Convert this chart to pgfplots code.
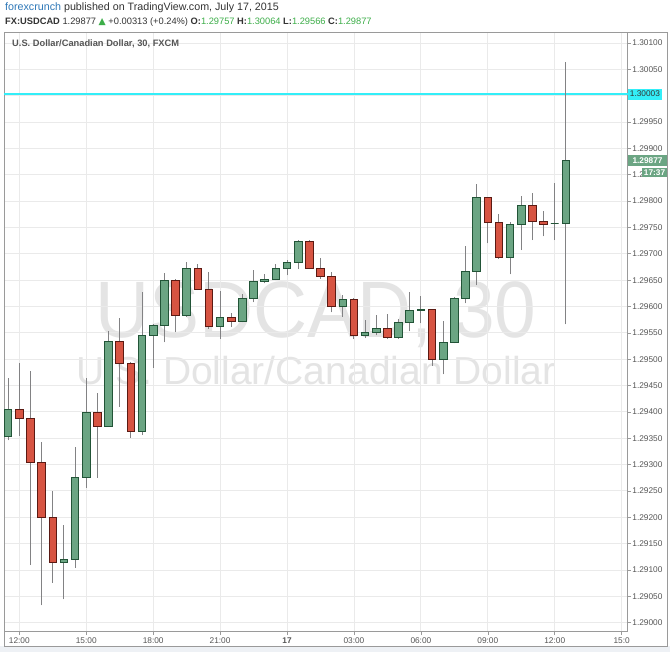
\documentclass[border=0pt]{standalone}
\usepackage{fontspec}
\setmainfont{Liberation Sans}
\newfontfamily\dejavu{DejaVu Sans}
\usepackage{pgfplots}
\usepackage{pgfplotstable}
\pgfplotsset{compat=1.18}

\definecolor{upfill}{HTML}{6BA583}
\definecolor{upline}{HTML}{225437}
\definecolor{dnfill}{HTML}{D75442}
\definecolor{dnline}{HTML}{5B1A13}
\definecolor{wick}{HTML}{828284}
\definecolor{gridc}{HTML}{EAEAEA}
\definecolor{framec}{HTML}{9A9A9A}
\definecolor{lbl}{HTML}{555555}
\definecolor{wm}{HTML}{E4E4E4}
\definecolor{cyanc}{HTML}{33EEF8}
\definecolor{fcblue}{HTML}{2E78B8}
\definecolor{tvgreen}{HTML}{3DAE49}
\definecolor{hdr}{HTML}{333333}
\definecolor{bgc}{HTML}{EEF1F5}

% 30 min candles, t = hours from 16 Jul 00:00
\pgfplotstableread{
t    o       h       l       c
11.5 1.29353 1.29464 1.29346 1.29405
12.0 1.29405 1.29492 1.29355 1.29388
12.5 1.29388 1.29477 1.29109 1.29304
13.0 1.29304 1.29342 1.29033 1.29199
13.5 1.29199 1.29249 1.29076 1.29114
14.0 1.29114 1.29186 1.29044 1.29120
14.5 1.29120 1.29334 1.29104 1.29275
15.0 1.29275 1.29464 1.29256 1.29399
15.5 1.29399 1.29435 1.29275 1.29372
16.0 1.29372 1.29553 1.29372 1.29534
16.5 1.29534 1.29578 1.29410 1.29492
17.0 1.29492 1.29495 1.29351 1.29363
17.5 1.29363 1.29627 1.29357 1.29545
18.0 1.29545 1.29566 1.29484 1.29564
18.5 1.29564 1.29663 1.29532 1.29650
19.0 1.29650 1.29652 1.29551 1.29583
19.5 1.29583 1.29684 1.29581 1.29673
20.0 1.29673 1.29680 1.29631 1.29633
20.5 1.29633 1.29665 1.29558 1.29562
21.0 1.29562 1.29629 1.29538 1.29579
21.5 1.29579 1.29587 1.29562 1.29572
22.0 1.29572 1.29623 1.29570 1.29616
22.5 1.29616 1.29669 1.29608 1.29648
23.0 1.29648 1.29661 1.29644 1.29652
23.5 1.29652 1.29680 1.29650 1.29673
24.0 1.29673 1.29688 1.29659 1.29684
24.5 1.29684 1.29726 1.29671 1.29724
25.0 1.29724 1.29726 1.29671 1.29673
25.5 1.29673 1.29692 1.29653 1.29657
26.0 1.29657 1.29665 1.29589 1.29600
26.5 1.29600 1.29621 1.29581 1.29614
27.0 1.29614 1.29616 1.29538 1.29545
27.5 1.29545 1.29574 1.29540 1.29551
28.0 1.29551 1.29583 1.29545 1.29559
28.5 1.29559 1.29585 1.29538 1.29541
29.0 1.29541 1.29576 1.29539 1.29570
29.5 1.29570 1.29627 1.29553 1.29593
30.0 1.29593 1.29619 1.29568 1.29595
30.5 1.29595 1.29596 1.29488 1.29500
31.0 1.29500 1.29572 1.29471 1.29532
31.5 1.29532 1.29618 1.29530 1.29616
32.0 1.29616 1.29714 1.29606 1.29667
32.5 1.29667 1.29832 1.29640 1.29806
33.0 1.29806 1.29808 1.29720 1.29760
33.5 1.29760 1.29775 1.29691 1.29693
34.0 1.29693 1.29760 1.29661 1.29756
34.5 1.29756 1.29809 1.29707 1.29792
35.0 1.29792 1.29815 1.29726 1.29762
35.5 1.29762 1.29781 1.29733 1.29756
36.0 1.29757 1.29834 1.29726 1.29757
36.5 1.29757 1.30064 1.29566 1.29877
}\ohlc

\pgfplotsset{
  wickst/.style={draw=wick, line width=1pt, mark=none},
  upbody/.style={draw=upline, fill=upfill, line width=0.9pt, mark=none},
  dnbody/.style={draw=dnline, fill=dnfill, line width=0.9pt, mark=none},
}

\begin{document}
\begin{tikzpicture}[x=1pt,y=1pt]
\useasboundingbox (0,0) rectangle (670,652);
\fill[white] (0,0) rectangle (670,652);
\fill[bgc] (0,0) rectangle (670,6);
\draw[framec, line width=0.8pt] (4,6) rectangle (667,620);

% watermark
\node[wm, anchor=base, inner sep=0, font=\fontsize{80}{80}\selectfont, xscale=0.935, transform shape] at (316,314) {USDCAD, 30};
\node[wm, anchor=base, inner sep=0, font=\fontsize{39}{39}\selectfont] at (316,267) {U.S. Dollar/Canadian Dollar};

\begin{axis}[
  at={(4pt,20.3pt)}, anchor=south west,
  scale only axis, width=623.7pt, height=599.7pt,
  xmin=11.314, xmax=39.27, ymin=1.289829, ymax=1.301209,
  clip=false,
  axis line style={draw=framec, line width=0.8pt},
  tick style={draw=framec, line width=0.6pt},
  tick align=outside, major tick length=3.5pt,
  xtick pos=bottom, ytick pos=right, yticklabel pos=right,
  grid=major, grid style={draw=gridc, line width=0.9pt},
  xtick={12,15,18,21,24,27,30,33,36,39},
  xticklabels={12:00,15:00,18:00,21:00,\textbf{17},03:00,06:00,09:00,12:00,15:0},
  ytick={1.29,1.2905,1.291,1.2915,1.292,1.2925,1.293,1.2935,1.294,1.2945,1.295,1.2955,1.296,1.2965,1.297,1.2975,1.298,1.2985,1.299,1.2995,1.3,1.3005,1.301},
  yticklabels={1.29000,1.29050,1.29100,1.29150,1.29200,1.29250,1.29300,1.29350,1.29400,1.29450,1.29500,1.29550,1.29600,1.29650,1.29700,1.29750,1.29800,1.29850,1.29900,1.29950,{},1.30050,1.30100},
  ticklabel style={font=\fontsize{8.3}{10}\selectfont, text=lbl},
  yticklabel style={anchor=west, inner sep=1pt},
  xticklabel style={inner sep=2pt},
]
\addplot[cyanc, line width=2pt, mark=none] coordinates {(11.314,1.30003) (39.27,1.30003)};

\pgfplotsinvokeforeach{0,...,50}{
  \pgfplotstablegetelem{#1}{t}\of\ohlc \let\vT\pgfplotsretval
  \pgfplotstablegetelem{#1}{o}\of\ohlc \let\vO\pgfplotsretval
  \pgfplotstablegetelem{#1}{h}\of\ohlc \let\vH\pgfplotsretval
  \pgfplotstablegetelem{#1}{l}\of\ohlc \let\vL\pgfplotsretval
  \pgfplotstablegetelem{#1}{c}\of\ohlc \let\vC\pgfplotsretval
  \pgfmathsetmacro\xa{\vT-0.17}
  \pgfmathsetmacro\xb{\vT+0.17}
  \ifdim\vO pt>\vC pt \def\bst{dnbody}\else\def\bst{upbody}\fi
  \edef\next{%
    \noexpand\addplot[wickst] coordinates {(\vT,\vL) (\vT,\vH)};
    \noexpand\addplot[\bst] coordinates {(\xa,\vO) (\xb,\vO) (\xb,\vC) (\xa,\vC)} -- cycle;}
  \next
}

\node[fill=cyanc, text=hdr, anchor=west, inner xsep=2pt, inner ysep=0pt,
  minimum height=11pt, font=\fontsize{8.3}{10}\selectfont]
  at (axis cs:39.27,1.30003) {1.30003};
\node[fill=upfill, text=white, anchor=west, inner xsep=2pt, inner ysep=0pt,
  minimum height=10.5pt, minimum width=39.3pt, font=\bfseries\fontsize{8.3}{10}\selectfont]
  (g) at (axis cs:39.27,1.29877) {1.29877};
\node[fill=upfill, text=white, anchor=north east, inner xsep=2pt, inner ysep=0pt,
  minimum height=9.5pt, font=\bfseries\fontsize{8.3}{10}\selectfont]
  at ([yshift=-1.5pt]g.south east) {17:37};
\end{axis}

% header
\node[anchor=base west, inner sep=0, font=\fontsize{10.7}{12}\selectfont] at (5,641.5)
  {\textcolor{fcblue}{forexcrunch} \textcolor{hdr}{published on TradingView.com, July 17, 2015}};
\node[anchor=base west, inner sep=0, font=\fontsize{9.3}{12}\selectfont, text=hdr] at (5,627)
  {\textbf{FX:USDCAD} 1.29877 {\dejavu\textcolor{tvgreen}{▲}} +0.00313 (+0.24\%)
   \textbf{O:}\textcolor{tvgreen}{1.29757} \textbf{H:}\textcolor{tvgreen}{1.30064}
   \textbf{L:}\textcolor{tvgreen}{1.29566} \textbf{C:}\textcolor{tvgreen}{1.29877}};
\node[anchor=base west, inner sep=0, text=lbl, font=\bfseries\fontsize{9.3}{10}\selectfont] at (12,605)
  {U.S. Dollar/Canadian Dollar, 30, FXCM};
\end{tikzpicture}
\end{document}
